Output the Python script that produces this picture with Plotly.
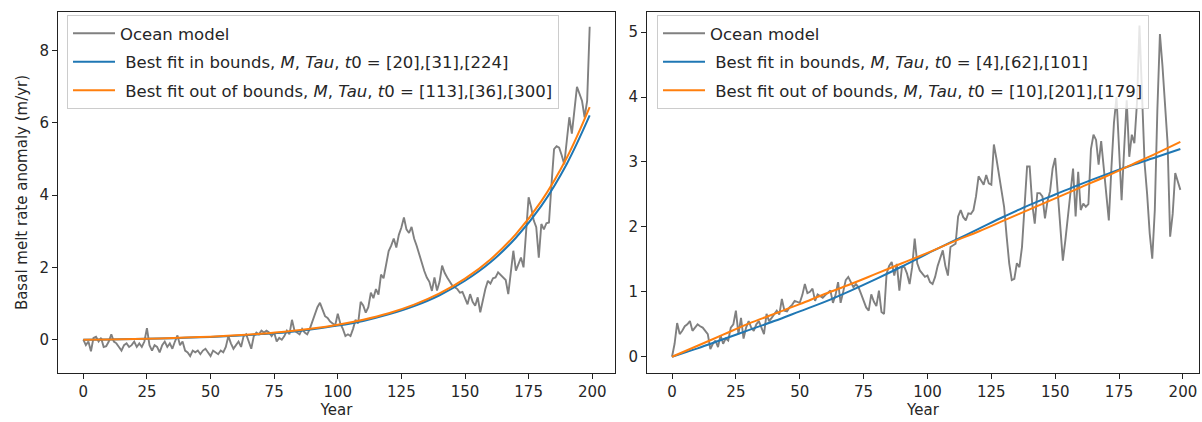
import plotly.graph_objects as go

years = list(range(200))

left_ocean = [
    0.0, -0.15, -0.05, -0.32, 0.05, 0.08, -0.05, 0.05, -0.2, -0.18,
    -0.05, 0.15, -0.05, -0.1, -0.2, -0.3, -0.15, -0.1, -0.2, -0.15,
    -0.05, -0.2, -0.1, -0.2, -0.05, 0.32, -0.15, -0.3, -0.15, -0.2,
    -0.35, -0.15, -0.05, -0.2, -0.1, -0.25, -0.05, 0.12, -0.15, -0.05,
    -0.3, -0.35, -0.45, -0.3, -0.35, -0.3, -0.4, -0.3, -0.25, -0.35,
    -0.45, -0.3, -0.35, -0.4, -0.3, -0.35, -0.2, 0.1, -0.1, -0.25,
    -0.15, -0.05, -0.2, 0.1, 0.15, -0.05, -0.25, 0.1, 0.2, 0.15,
    0.25, 0.2, 0.25, 0.2, 0.1, 0.2, -0.05, 0.05, 0.0, 0.1,
    0.25, 0.15, 0.55, 0.25, 0.2, 0.15, 0.3, 0.2, 0.15, 0.3,
    0.5, 0.7, 0.9, 1.02, 0.85, 0.65, 0.6, 0.5, 0.45, 0.4,
    0.72, 0.45, 0.3, 0.1, 0.15, 0.1, 0.3, 0.55, 0.45, 1.05,
    0.95, 0.75, 0.9, 1.3, 1.15, 1.4, 1.25, 1.8, 1.7, 2.1,
    2.45, 2.6, 2.8, 2.55, 2.9, 3.1, 3.38, 3.05, 2.95, 3.12,
    2.8, 2.6, 2.35, 2.1, 1.9, 1.72, 1.6, 1.35, 1.72, 1.36,
    1.6, 2.05, 1.85, 1.72, 1.6, 1.5, 1.45, 1.4, 1.3, 1.32,
    1.15, 0.98, 1.26, 1.05, 0.94, 1.17, 0.76, 1.1, 1.4, 1.63,
    1.55, 1.7, 1.72, 1.86, 1.78, 1.72, 1.65, 1.26, 1.9, 2.46,
    1.91, 2.09, 2.27, 2.0, 3.0, 3.94, 3.66, 3.3, 3.11, 2.27,
    3.2, 3.05, 3.22, 3.24, 4.3, 5.27, 5.35, 5.31, 5.1, 4.85,
    5.5, 6.15, 5.7, 6.3, 6.99, 6.8, 6.6, 6.15, 6.6, 8.65,
]

right_ocean = [
    0.0, 0.2, 0.52, 0.35, 0.4, 0.47, 0.5, 0.55, 0.4, 0.45,
    0.5, 0.47, 0.45, 0.4, 0.35, 0.12, 0.2, 0.25, 0.15, 0.33,
    0.2, 0.28, 0.25, 0.45, 0.5, 0.71, 0.35, 0.6, 0.28, 0.45,
    0.55, 0.45, 0.4, 0.5, 0.55, 0.45, 0.35, 0.66, 0.55, 0.6,
    0.66, 0.71, 0.65, 0.89, 0.71, 0.7, 0.76, 0.8, 0.86, 0.85,
    0.83, 0.95, 1.12, 0.98, 1.0, 1.05, 0.86, 0.96, 0.93, 0.91,
    0.95, 0.98, 1.02, 0.83, 0.95, 1.15, 0.83, 1.0, 1.18, 1.23,
    1.15, 1.07, 1.12, 1.07, 0.97, 0.85, 0.76, 0.71, 0.96, 0.85,
    0.78, 1.02, 0.69, 0.66, 1.28, 1.4, 1.46, 1.25, 1.43, 1.02,
    1.38, 1.38, 1.28, 1.12, 1.38, 1.82, 1.44, 1.33, 1.28, 1.23,
    1.25, 1.15, 1.12, 1.23, 1.4, 1.54, 1.64, 1.4, 1.25, 1.69,
    1.72, 1.74, 2.16, 2.26, 2.15, 2.1, 2.21, 2.2, 2.26, 2.47,
    2.78, 2.72, 2.65, 2.8, 2.67, 2.65, 3.27, 3.05, 2.8, 2.62,
    2.31, 1.85, 1.44, 1.18, 1.2, 1.44, 1.38, 1.69, 2.41, 2.93,
    2.93, 2.36, 2.05, 2.52, 2.52, 2.47, 2.13, 2.4, 2.55, 2.9,
    3.06, 2.5, 1.9, 1.48, 1.8, 2.2, 2.6, 2.9, 2.16, 2.85,
    2.26, 2.36, 2.31, 2.35, 3.2, 3.42, 3.34, 2.96, 3.32, 2.9,
    2.5, 2.1, 2.9, 3.6, 4.0, 3.2, 2.41, 3.2, 3.95, 3.08,
    3.42, 3.29, 3.9, 5.1, 4.0, 2.98, 2.5, 1.9, 1.51, 2.26,
    3.8, 4.97, 4.48, 3.8, 3.29, 1.85, 2.2, 2.83, 2.7, 2.57,
]

fit_years = [0, 10, 20, 30, 40, 50, 60, 70, 80, 90, 100, 110, 120, 130, 140, 150, 160, 170, 180, 190, 199]

left_fit_in = [0.0, 0.008, 0.019, 0.033, 0.052, 0.077, 0.11, 0.155, 0.21, 0.29, 0.39, 0.52,
               0.70, 0.93, 1.23, 1.63, 2.14, 2.82, 3.70, 4.86, 6.20]
left_fit_out = [0.0, 0.009, 0.021, 0.037, 0.058, 0.085, 0.121, 0.168, 0.229, 0.31, 0.415, 0.553,
                0.733, 0.97, 1.28, 1.69, 2.22, 2.92, 3.83, 5.03, 6.43]

right_fit_in = [0.0, 0.13, 0.27, 0.41, 0.55, 0.70, 0.85, 1.02, 1.20, 1.39, 1.59, 1.78,
                1.97, 2.16, 2.34, 2.50, 2.66, 2.81, 2.95, 3.08, 3.20]
right_fit_out = [0.0, 0.17, 0.34, 0.51, 0.66, 0.81, 0.97, 1.12, 1.28, 1.44, 1.60, 1.77,
                 1.93, 2.10, 2.27, 2.44, 2.61, 2.78, 2.96, 3.14, 3.31]

left_labels = ["Ocean model",
               " Best fit in bounds, <i>M</i>, <i>Tau</i>, <i>t</i>0 = [20],[31],[224]",
               " Best fit out of bounds, <i>M</i>, <i>Tau</i>, <i>t</i>0 = [113],[36],[300]"]
right_labels = ["Ocean model",
                " Best fit in bounds, <i>M</i>, <i>Tau</i>, <i>t</i>0 = [4],[62],[101]",
                " Best fit out of bounds, <i>M</i>, <i>Tau</i>, <i>t</i>0 = [10],[201],[179]"]

x_ticks = [0, 25, 50, 75, 100, 125, 150, 175, 200]
left_y_ticks = [0, 2, 4, 6, 8]
right_y_ticks = [0, 1, 2, 3, 4, 5]

GRAY = "#808080"
BLUE = "#1f77b4"
ORANGE = "#ff7f0e"
FONT = "DejaVu Sans"
TXT = "#262626"

fig = go.Figure()

def add_panel(xa, ya, leg, ocean, fin, fout, labels, tag):
    fig.add_trace(go.Scatter(x=years, y=ocean, mode="lines", name=labels[0],
                             line=dict(color=GRAY, width=1.9), xaxis=xa, yaxis=ya,
                             legend=leg, legendgroup=tag + "a"))
    fig.add_trace(go.Scatter(x=fit_years, y=fin, mode="lines", name=labels[1],
                             line=dict(color=BLUE, width=2, shape="spline"), xaxis=xa, yaxis=ya,
                             legend=leg, legendgroup=tag + "b"))
    fig.add_trace(go.Scatter(x=fit_years, y=fout, mode="lines", name=labels[2],
                             line=dict(color=ORANGE, width=2, shape="spline"), xaxis=xa, yaxis=ya,
                             legend=leg, legendgroup=tag + "c"))

add_panel("x", "y", "legend", left_ocean, left_fit_in, left_fit_out, left_labels, "L")
add_panel("x2", "y2", "legend2", right_ocean, right_fit_in, right_fit_out, right_labels, "R")

axis_common = dict(showline=True, linecolor="#222", linewidth=1, mirror=True,
                   ticks="outside", ticklen=5, tickwidth=1, tickcolor="#222",
                   showgrid=False, zeroline=False,
                   tickfont=dict(family=FONT, size=15, color=TXT))

W, H = 1202, 422
l, r, t, b = 58, 3, 12, 49
pw = W - l - r
ph = H - t - b

def lx(px):
    return (px - l) / pw

def ly(py):
    return (H - b - py) / ph

legend_common = dict(xref="paper", yref="paper", xanchor="left", yanchor="top",
                     bgcolor="rgba(255,255,255,0.8)", bordercolor="#cccccc", borderwidth=1,
                     font=dict(family=FONT, size=16.5, color=TXT), itemwidth=42,
                     tracegroupgap=4)

fig.update_layout(
    width=W, height=H,
    margin=dict(l=l, r=r, t=t, b=b),
    plot_bgcolor="white", paper_bgcolor="white",
    font=dict(family=FONT, color=TXT),
    xaxis=dict(domain=[0, 557 / pw], range=[-9.95, 208.95], tickvals=x_ticks,
               title=dict(text="Year", font=dict(family=FONT, size=15, color=TXT), standoff=4),
               anchor="y", **axis_common),
    yaxis=dict(domain=[0, 1], range=[-0.92, 9.06], tickvals=left_y_ticks,
               title=dict(text="Basal melt rate anomaly (m/yr)", font=dict(family=FONT, size=15, color=TXT), standoff=8),
               anchor="x", **axis_common),
    xaxis2=dict(domain=[589 / pw, 1.0], range=[-9.8, 206.3], tickvals=x_ticks,
                title=dict(text="Year", font=dict(family=FONT, size=15, color=TXT), standoff=4),
                anchor="y2", **axis_common),
    yaxis2=dict(domain=[0, 1], range=[-0.25, 5.31], tickvals=right_y_ticks,
                anchor="x2", **axis_common),
    legend=dict(x=lx(67), y=ly(15), **legend_common),
    legend2=dict(x=lx(657), y=ly(15), **legend_common),
    showlegend=True,
)

fig.write_html("out.html")
